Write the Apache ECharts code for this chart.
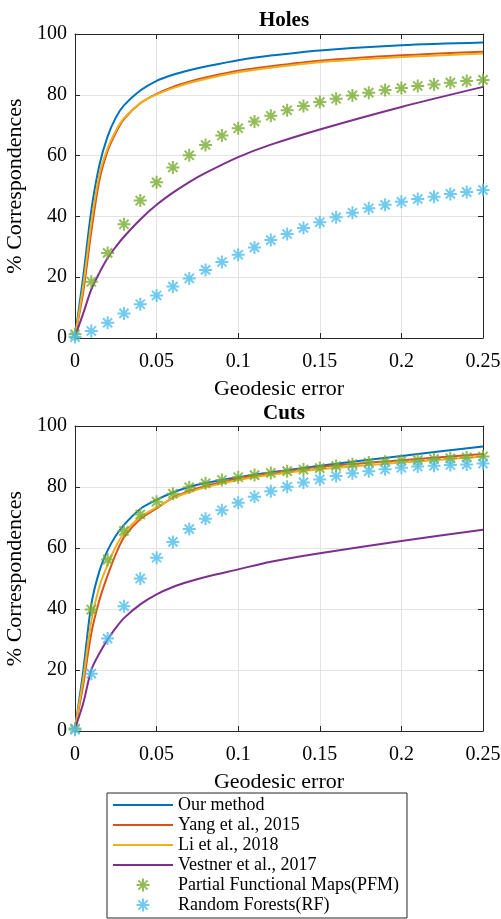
<!DOCTYPE html>
<html>
<head>
<meta charset="utf-8">
<script src="https://cdn.jsdelivr.net/npm/echarts@6/dist/echarts.min.js"></script>
<style>
  html, body { margin: 0; padding: 0; background: #ffffff; }
  #chart { width: 501px; height: 919px; }
</style>
</head>
<body>
<div id="chart"></div>
<script>
// ---------------- data ----------------
const panelTitles = ['Holes', 'Cuts'];
const seriesNames = ['Our method', 'Yang et al., 2015', 'Li et al., 2018', 'Vestner et al., 2017',
                     'Partial Functional Maps(PFM)', 'Random Forests(RF)'];
const xTickLabels = ['0', '0.05', '0.1', '0.15', '0.2', '0.25'];
const yTickLabels = ['0', '20', '40', '60', '80', '100'];

// x positions of the sampled curve points
const lineX = [0, 0.005, 0.01, 0.015, 0.02, 0.025, 0.03, 0.04, 0.05, 0.06, 0.07, 0.08, 0.1, 0.12, 0.15, 0.2, 0.25];
// x positions of the markers
const markerX = [0, 0.01, 0.02, 0.03, 0.04, 0.05, 0.06, 0.07, 0.08, 0.09, 0.1, 0.11, 0.12,
                 0.13, 0.14, 0.15, 0.16, 0.17, 0.18, 0.19, 0.2, 0.21, 0.22, 0.23, 0.24, 0.25];

// Holes
const holesOurs    = [0.5, 20, 42, 57, 66.3, 72.5, 76.5, 81.4, 84.6, 86.6, 88.1, 89.3, 91.4, 92.9, 94.6, 96.3, 97.2];
const holesYang    = [0.5, 15, 35, 52, 61.5, 67.5, 72, 77.2, 80.3, 82.6, 84.3, 85.7, 87.9, 89.4, 91.2, 93, 94.2];
const holesLi      = [0.5, 17, 38, 54, 62.5, 68.2, 72.3, 77.3, 80.1, 82.2, 83.9, 85.2, 87.4, 88.9, 90.7, 92.4, 93.6];
const holesVestner = [0.5, 8, 16, 21.5, 26.3, 30, 33.3, 39, 43.8, 47.8, 51.3, 54.3, 59.5, 63.6, 68.6, 76, 82.6];
const holesPFM = [1.2, 18.5, 28, 37.4, 45.2, 51.2, 56.1, 60.1, 63.5, 66.6, 69, 71.2, 73.1,
                  74.9, 76.3, 77.6, 78.7, 79.8, 80.7, 81.6, 82.2, 82.9, 83.4, 84, 84.5, 84.9];
const holesRF  = [0.3, 2.3, 5, 8.1, 11.1, 14, 16.9, 19.6, 22.4, 25, 27.4, 29.8, 32.2,
                  34.2, 36.2, 38.1, 39.7, 41.2, 42.7, 43.8, 44.8, 45.7, 46.5, 47.4, 48, 48.7];

// Cuts
const cutsOurs    = [0.8, 19.5, 41.5, 52.5, 59.2, 64, 67.6, 72.8, 75.8, 78.2, 80, 81.3, 83.2, 84.8, 87, 90.2, 93.3];
const cutsYang    = [0.8, 15, 32, 43, 51, 58, 63.5, 69.5, 73, 76.5, 78.7, 80.3, 82.8, 84.5, 86.6, 88.8, 90.8];
const cutsLi      = [0.8, 17, 36, 47.5, 54.5, 60.5, 64.8, 70.2, 73.3, 76.3, 78.3, 79.9, 82.3, 84, 85.8, 88, 90];
const cutsVestner = [0.8, 9, 20, 25.5, 30, 33.8, 37, 41.5, 44.8, 47.2, 49, 50.5, 53, 55.5, 58.3, 62.3, 66];
const cutsPFM = [0.8, 39.8, 56.2, 65.6, 71, 75.2, 77.8, 79.9, 81.2, 82.3, 83.2, 83.9, 84.6,
                 85.2, 85.7, 86.2, 86.9, 87.5, 88, 88.3, 88.6, 88.8, 89.2, 89.4, 89.7, 90];
const cutsRF  = [0.4, 18.8, 30.3, 40.9, 50, 56.8, 62, 66.2, 69.6, 72.4, 74.8, 76.8, 78.6,
                 80.1, 81.5, 82.5, 83.6, 84.5, 85.2, 85.8, 86.3, 86.7, 87, 87.2, 87.4, 87.7];

// ---------------- styling ----------------
const colors = ['#0072BD', '#D95319', '#EDB120', '#7E2F8E', '#77AC30', '#4DBEEE'];
const FONT = '"Liberation Serif", "Times New Roman", serif';
const AXC = '#262626';
const ASTERISK = 'path://M0,-6L0,6M-6,0L6,0M-4.24,-4.24L4.24,4.24M-4.24,4.24L4.24,-4.24';
const LEGEND_LINE = 'path://M0,0h60v2h-60z';

const pairs = (xs, ys) => xs.map((x, i) => [x, ys[i]]);

const grids = [
  { left: 75, top: 34, width: 408, height: 304, containLabel: false, outerBoundsMode: 'none' },
  { left: 75, top: 426, width: 408, height: 305, containLabel: false, outerBoundsMode: 'none' }
];

function xAxes(gi) {
  const base = {
    type: 'value', gridIndex: gi, min: 0, max: 0.25, interval: 0.05,
    axisLine: { show: true, onZero: false, lineStyle: { color: AXC, width: 1 } },
    axisTick: { show: true, inside: true, length: 5, lineStyle: { color: AXC } }
  };
  return [
    Object.assign({}, base, {
      position: 'bottom',
      name: 'Geodesic error', nameLocation: 'middle', nameGap: 40,
      nameTextStyle: { fontFamily: FONT, fontSize: 22, color: '#000' },
      axisLabel: {
        margin: 14, fontFamily: FONT, fontSize: 20, color: '#000',
        formatter: v => xTickLabels[Math.round(v / 0.05)]
      },
      splitLine: { show: true, lineStyle: { color: '#e3e3e3', width: 1 } }
    }),
    Object.assign({}, base, {
      position: 'top', axisLabel: { show: false }, splitLine: { show: false }
    })
  ];
}

function yAxes(gi) {
  const base = {
    type: 'value', gridIndex: gi, min: 0, max: 100, interval: 20,
    axisLine: { show: true, onZero: false, lineStyle: { color: AXC, width: 1 } },
    axisTick: { show: true, inside: true, length: 5, lineStyle: { color: AXC } }
  };
  return [
    Object.assign({}, base, {
      position: 'left',
      name: '% Correspondences', nameLocation: 'middle', nameGap: 43,
      nameTextStyle: { fontFamily: FONT, fontSize: 22, color: '#000' },
      axisLabel: {
        margin: 8, fontFamily: FONT, fontSize: 20, color: '#000',
        formatter: v => yTickLabels[Math.round(v / 20)]
      },
      splitLine: { show: true, lineStyle: { color: '#e3e3e3', width: 1 } }
    }),
    Object.assign({}, base, {
      position: 'right', axisLabel: { show: false }, splitLine: { show: false }
    })
  ];
}

function lineSeries(name, ys, gi, color) {
  return {
    name, type: 'line', xAxisIndex: gi * 2, yAxisIndex: gi * 2,
    data: pairs(lineX, ys), symbol: 'none', smooth: 0.3,
    lineStyle: { color, width: 2 }, itemStyle: { color }, z: 3
  };
}
function markerSeries(name, ys, gi, color) {
  return {
    name, type: 'scatter', xAxisIndex: gi * 2, yAxisIndex: gi * 2,
    data: pairs(markerX, ys), symbol: ASTERISK, symbolSize: 13,
    itemStyle: { color: color, borderColor: color, borderWidth: 2 }, z: 4
  };
}

const panels = [
  [holesOurs, holesYang, holesLi, holesVestner, holesPFM, holesRF],
  [cutsOurs, cutsYang, cutsLi, cutsVestner, cutsPFM, cutsRF]
];

const series = [];
panels.forEach((p, gi) => {
  for (let k = 0; k < 4; k++) series.push(lineSeries(seriesNames[k], p[k], gi, colors[k]));
  for (let k = 4; k < 6; k++) series.push(markerSeries(seriesNames[k], p[k], gi, colors[k]));
});

const legendData = seriesNames.map((n, k) => k < 4 ? { name: n, icon: LEGEND_LINE } : { name: n });

const option = {
  backgroundColor: '#ffffff',
  animation: false,
  title: [
    { text: panelTitles[0], left: 279, top: 5, textAlign: 'center',
      textStyle: { fontFamily: FONT, fontSize: 21, fontWeight: 'bold', color: '#000' } },
    { text: panelTitles[1], left: 279, top: 398, textAlign: 'center',
      textStyle: { fontFamily: FONT, fontSize: 21, fontWeight: 'bold', color: '#000' } }
  ],
  grid: grids,
  xAxis: [].concat(xAxes(0), xAxes(1)),
  yAxis: [].concat(yAxes(0), yAxes(1)),
  legend: {
    orient: 'vertical', left: 107, top: 793,
    itemWidth: 60, itemHeight: 13, itemGap: 0,
    padding: [2, 8, 3, 6],
    borderColor: AXC, borderWidth: 1, backgroundColor: '#fff',
    textStyle: { fontFamily: FONT, fontSize: 18, color: '#000', lineHeight: 20 },
    data: legendData
  },
  series
};

const chart = echarts.init(document.getElementById('chart'), null, { renderer: 'canvas' });
chart.setOption(option);
</script>
</body>
</html>
